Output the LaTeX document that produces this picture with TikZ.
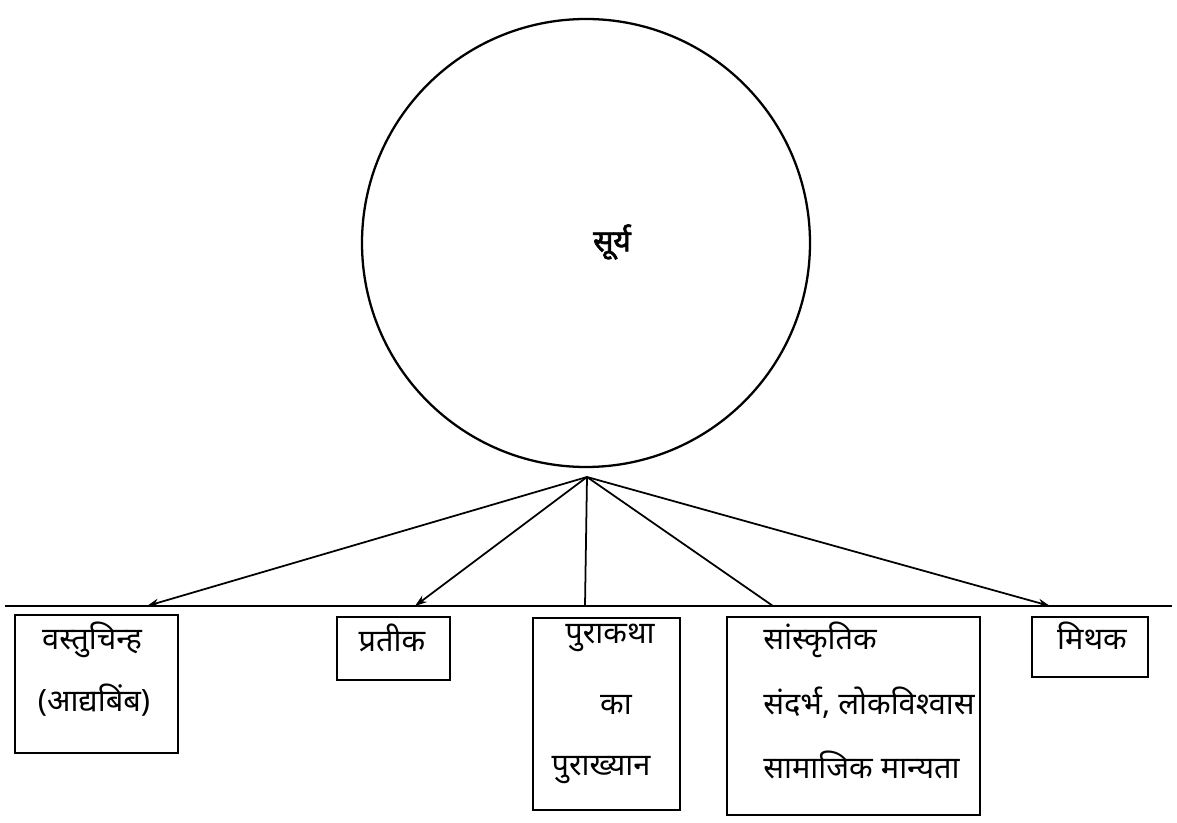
\documentclass[tikz,border=0pt]{standalone}
\usepackage{fontspec}
\setmainfont[Script=Devanagari]{Noto Sans}
\newfontfamily\sunfont[Script=Devanagari,FakeBold=2.5]{Noto Sans}
\usetikzlibrary{arrows.meta}

\begin{document}
\begin{tikzpicture}[
    >={Stealth[length=2.4mm,width=1.6mm]},
    font=\fontsize{17.5}{21}\selectfont,
    box/.style={draw, line width=1pt, inner sep=0pt},
    ray/.style={line width=1pt},
    lbl/.style={inner sep=0pt},
  ]
    \useasboundingbox (0,0) rectangle (23.54,-16.46);

    \node[draw, circle, line width=1.3pt, minimum size=8.96cm] (sun) at (11.72,-4.86) {};
    \node[lbl, font=\sunfont\fontsize{17}{20}\selectfont] (suntxt) at (12.24,-4.84) {सूर्य};

    \coordinate (hub) at (11.74,-9.54);
    \coordinate (baseL) at (0.1,-12.12);
    \coordinate (baseR) at (23.44,-12.12);
    \draw[line width=0.8pt] (baseL) -- (baseR);

    \coordinate (e1) at (2.94,-12.12);
    \coordinate (e2) at (8.30,-12.12);
    \coordinate (e3) at (11.70,-12.12);
    \coordinate (e4) at (15.46,-12.12);
    \coordinate (e5) at (21.00,-12.12);
    \foreach \e/\tip in {e1/->, e2/->, e3/-, e4/-, e5/->} \draw[ray, \tip] (hub) -- (\e);

    % boxes under the line
    \node[box, minimum width=3.26cm, minimum height=2.76cm] (vastu)  at (1.93,-13.68)  {};
    \node[box, minimum width=2.26cm, minimum height=1.26cm] (prateek) at (7.87,-12.97) {};
    \node[box, minimum width=2.94cm, minimum height=3.84cm] (pura)   at (12.13,-14.28) {};
    \node[box, minimum width=5.06cm, minimum height=3.96cm] (sans)   at (17.07,-14.32) {};
    \node[box, minimum width=2.32cm, minimum height=1.20cm] (mithak) at (21.80,-12.94) {};

    \node[lbl] (vastu1) at (1.84,-12.80) {वस्तुचिन्ह};
    \node[lbl] (vastu2) at (1.88,-14.00) {(आद्यबिंब)};
    \node[lbl] (prateek1) at (7.84,-12.76) {प्रतीक};
    \node[lbl] (pura1) at (12.20,-12.76) {पुराकथा};
    \node[lbl] (pura2) at (12.32,-14.10) {का};
    \node[lbl] (pura3) at (12.02,-15.40) {पुराख्यान};
    \node[lbl, anchor=west] (sans1) at (15.26,-12.80) {सांस्कृतिक};
    \node[lbl, anchor=west] (sans2) at (15.26,-14.06) {संदर्भ, लोकविश्वास};
    \node[lbl, anchor=west] (sans3) at (15.26,-15.30) {सामाजिक मान्यता};
    \node[lbl] (mithak1) at (21.84,-12.72) {मिथक};
\end{tikzpicture}
\end{document}
